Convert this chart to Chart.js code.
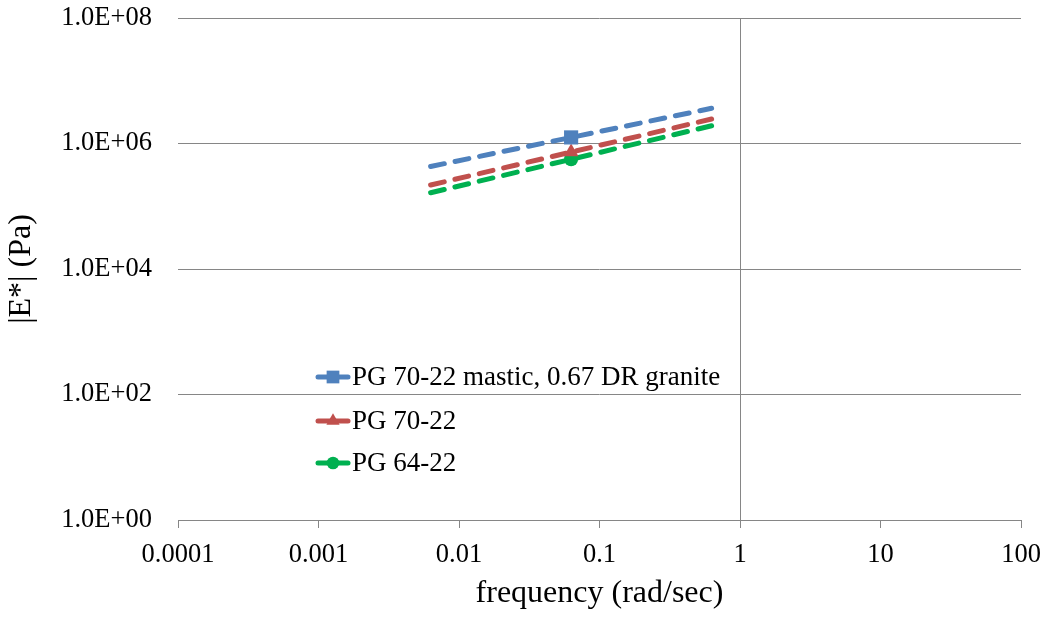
<!DOCTYPE html>
<html>
<head>
<meta charset="utf-8">
<script src="https://cdn.jsdelivr.net/npm/chart.js@4.4.1/dist/chart.umd.min.js"></script>
<style>
  html, body { margin: 0; padding: 0; background: #fff; }
  #wrap { width: 1051px; height: 617px; position: relative; }
</style>
</head>
<body>
<div id="wrap"><canvas id="grafico"></canvas></div>
<script>
// ==============================
// DATOS
// ==============================
const frecuencia = [0.00628, 0.0628, 0.628];
const mastico = [4.3e5, 1.25e6, 3.64e6];
const pg7022 = [2.18e5, 7.3e5, 2.46e6];
const pg6422 = [1.64e5, 5.6e5, 1.92e6];
const nombres = ["PG 70-22 mastic, 0.67 DR granite", "PG 70-22", "PG 64-22"];

const ticksX = [0.0001, 0.001, 0.01, 0.1, 1, 10, 100];
const etiquetasX = ["0.0001", "0.001", "0.01", "0.1", "1", "10", "100"];
const ticksY = [1, 1e2, 1e4, 1e6, 1e8];
const etiquetasY = ["1.0E+00", "1.0E+02", "1.0E+04", "1.0E+06", "1.0E+08"];

const colores = ["#4F81BD", "#C0504D", "#00B050"];
const marcadores = ["rect", "triangle", "circle"];
const radios = [10, 8.5, 7];
const gris = "#868686";
const fuente = "'Liberation Serif', 'Times New Roman', serif";

function puntos(valores) {
    return frecuencia.map((f, i) => ({ x: f, y: valores[i] }));
}

const series = [mastico, pg7022, pg6422].map((valores, i) => ({
    label: nombres[i],
    data: puntos(valores),
    borderColor: colores[i],
    backgroundColor: colores[i],
    borderWidth: 5,
    borderDash: [14, 11],
    borderCapStyle: "round",
    pointStyle: marcadores[i],
    pointRadius: [0, radios[i], 0],
    pointBorderWidth: 0,
    pointBackgroundColor: colores[i],
    fill: false,
    tension: 0
}));

// ==============================
// LEYENDA DENTRO DEL GRÁFICO
// ==============================
function dibujarMarcador(ctx, tipo, x, y, r) {
    ctx.beginPath();
    if (tipo === "rect") {
        const s = r * Math.SQRT1_2;
        ctx.rect(x - s, y - s, 2 * s, 2 * s);
    } else if (tipo === "triangle") {
        ctx.moveTo(x, y - r);
        ctx.lineTo(x + r * 0.866, y + r * 0.5);
        ctx.lineTo(x - r * 0.866, y + r * 0.5);
        ctx.closePath();
    } else {
        ctx.arc(x, y, r, 0, Math.PI * 2);
    }
    ctx.fill();
}

const leyenda = {
    id: "leyenda",
    afterDraw(chart) {
        const ctx = chart.ctx;
        const filas = [377, 421, 463];
        ctx.save();
        ctx.font = "27px " + fuente;
        ctx.textBaseline = "middle";
        ctx.textAlign = "left";
        nombres.forEach((nombre, i) => {
            const y = filas[i];
            ctx.strokeStyle = colores[i];
            ctx.fillStyle = colores[i];
            ctx.lineWidth = 5;
            ctx.lineCap = "round";
            ctx.beginPath();
            ctx.moveTo(318, y);
            ctx.lineTo(348, y);
            ctx.stroke();
            dibujarMarcador(ctx, marcadores[i], 333, y, radios[i] * 0.9);
            ctx.fillStyle = "#000";
            ctx.fillText(nombre, 352, y + 1);
        });
        ctx.restore();
    }
};

// ==============================
// GRÁFICO
// ==============================
new Chart(document.getElementById("grafico"), {
    type: "line",
    data: { datasets: series },
    plugins: [leyenda],
    options: {
        responsive: true,
        maintainAspectRatio: false,
        animation: false,
        layout: { padding: { top: 18, right: 30, left: 0, bottom: 0 } },
        plugins: { legend: { display: false }, tooltip: { enabled: false } },
        scales: {
            x: {
                type: "logarithmic",
                min: 0.0001,
                max: 100,
                afterBuildTicks: s => { s.ticks = ticksX.map(v => ({ value: v })); },
                afterFit: s => { s.height = 97; s.paddingLeft = 0; s.paddingRight = 0; },
                border: { display: true, color: gris, width: 1 },
                grid: {
                    color: c => (c.tick && c.tick.value === 1) ? gris : "rgba(0,0,0,0)",
                    tickColor: gris,
                    tickLength: 8,
                    lineWidth: 1
                },
                ticks: {
                    callback: (v, i) => etiquetasX[i],
                    autoSkip: false,
                    maxRotation: 0,
                    padding: 11,
                    color: "#000",
                    font: { family: fuente, size: 26.5 }
                },
                title: {
                    display: true,
                    text: "frequency (rad/sec)",
                    color: "#000",
                    font: { family: fuente, size: 32 },
                    padding: { top: 0, bottom: 4 }
                }
            },
            y: {
                type: "logarithmic",
                min: 1,
                max: 1e8,
                afterBuildTicks: s => { s.ticks = ticksY.map(v => ({ value: v })); },
                afterFit: s => { s.width = 178; s.paddingTop = 0; s.paddingBottom = 0; },
                border: { display: false },
                grid: { color: gris, lineWidth: 1, drawTicks: false },
                ticks: {
                    callback: (v, i) => etiquetasY[i],
                    autoSkip: false,
                    padding: 26,
                    color: "#000",
                    font: { family: fuente, size: 26.5 }
                },
                title: {
                    display: true,
                    text: "|E*| (Pa)",
                    color: "#000",
                    font: { family: fuente, size: 32 },
                    padding: { top: 2, bottom: 0 }
                }
            }
        }
    }
});
</script>
</body>
</html>
